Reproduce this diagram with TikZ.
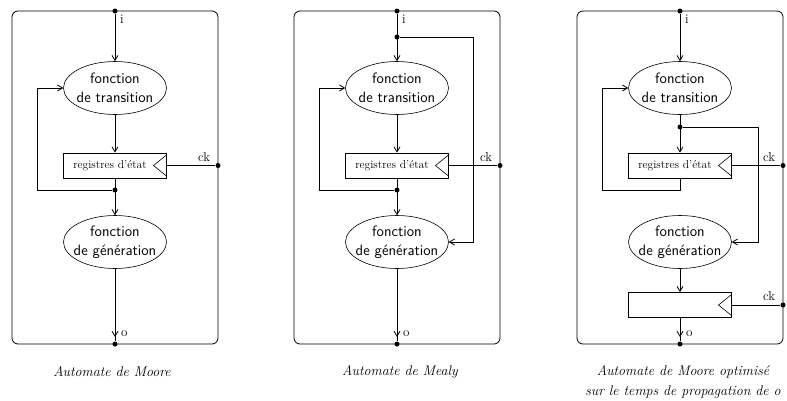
\documentclass[tikz,border=0pt]{standalone}
\usetikzlibrary{arrows.meta,shapes.geometric,calc}
\tikzset{
  fil/.style={line width=0.8pt},
  arr/.style={fil, -{Straight Barb[length=5pt,width=6pt]}},
  fct/.style={draw, ellipse, line width=0.6pt, inner xsep=-7pt, inner ysep=-2pt, minimum width=103pt, minimum height=53pt, align=center, font=\sffamily\fontsize{15}{19}\selectfont},
  reg/.style={draw, line width=0.8pt, minimum width=103pt, minimum height=25pt, inner sep=0pt,
    path picture={\draw[line width=0.6pt] ([yshift=-2pt]path picture bounding box.north east) -- ([xshift=-13pt]path picture bounding box.east) -- ([yshift=2pt]path picture bounding box.south east);}},
  regtxt/.style={font=\fontsize{11.5}{13}\selectfont, inner sep=0pt},
  pt/.style={circle, fill, inner sep=0pt, minimum size=5pt},
  lbl/.style={font=\fontsize{13}{15}\selectfont, inner sep=1pt},
  caption/.style={font=\itshape\fontsize{14}{20}\selectfont, align=center}
}
\begin{document}
\begin{tikzpicture}[x=1pt,y=-1pt]
\useasboundingbox (0,0) rectangle (787,400);
% parts shared by the three automata
\foreach \n/\cx in {1/115,2/397,3/680}{
  \draw[fil, rounded corners=6pt] (\cx-103,11) rectangle (\cx+103,344);
  \node[pt] (i\n) at (\cx,11) {};
  \node[lbl, anchor=north west] (li\n) at ([xshift=4pt]i\n.south) {i};
  \node[fct] (t\n) at (\cx,88) {fonction\\de transition};
  \node[reg] (r\n) at (\cx,165.5) {};
  \node[regtxt] (rt\n) at (\cx-5,165.5) {registres d'\'etat};
  \node[fct] (g\n) at (\cx,242) {fonction\\de g\'en\'eration};
  \node[pt] (o\n) at (\cx,344) {};
  \node[lbl, anchor=south west] (lo\n) at ([xshift=5pt,yshift=3pt]o\n.north) {o};
  \node[pt] (ck\n) at (\cx+103,165.5) {};
  \node[lbl, anchor=south east] (lck\n) at ([xshift=-4pt,yshift=3pt]ck\n.west) {ck};
  \coordinate (b\n) at (\cx-78,190);
  \draw[arr] (i\n) -- (t\n);
  \draw[arr] (t\n) -- (r\n);
  \draw[fil] (r\n.east) -- (ck\n);
}

% Moore
\node[pt] (f1) at (115,190) {};
\draw[arr] (r1) -- (g1);
\draw[arr] (f1) -- (b1) |- (t1.west);
\draw[fil] (g1) -- (o1);
\draw[arr] (g1) -- ($(o1)+(0,-7)$);

% Mealy
\node[pt] (f2) at (397,190) {};
\node[pt] (d2) at (397,37) {};
\draw[arr] (r2) -- (g2);
\draw[arr] (f2) -- (b2) |- (t2.west);
\draw[arr] (d2) -- ++(76,0) |- (g2.east);
\draw[fil] (g2) -- (o2);
\draw[arr] (g2) -- ($(o2)+(0,-7)$);

% Moore optimise
\node[pt] (d3) at (680,127) {};
\node[reg] (s3) at (680,305) {};
\node[pt] (ck4) at (783,305) {};
\node[lbl, anchor=south east] (lck4) at ([xshift=-4pt,yshift=3pt]ck4.west) {ck};
\draw[arr] (r3.south) |- (b3) |- (t3.west);
\draw[arr] (d3) -- ++(78,0) |- (g3.east);
\draw[arr] (g3) -- (s3);
\draw[fil] (s3.east) -- (ck4);
\draw[fil] (s3) -- (o3);
\draw[arr] (s3) -- ($(o3)+(0,-7)$);

\node[caption] (c1) at (112,372) {Automate de Moore};
\node[caption] (c2) at (400,372) {Automate de Mealy};
\node[caption] (c3) at (683,382) {Automate de Moore optimis\'e\\sur le temps de propagation de o};
\end{tikzpicture}
\end{document}
